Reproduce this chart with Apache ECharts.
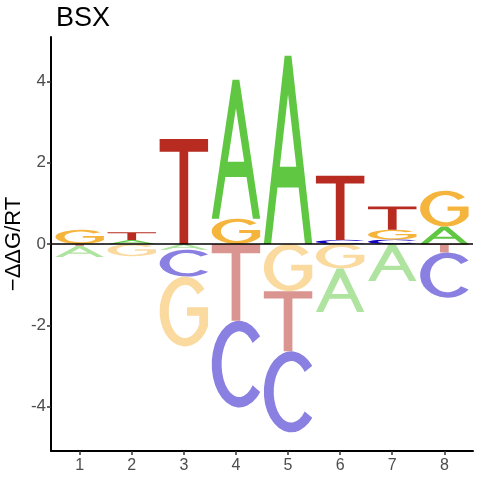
<!DOCTYPE html>
<html>
<head>
<meta charset="utf-8">
<script src="https://cdn.jsdelivr.net/npm/echarts@6/dist/echarts.min.js"></script>
<style>
  html, body { margin: 0; padding: 0; background: #fff; }
  #chart { width: 480px; height: 480px; }
</style>
</head>
<body>
<div id="chart"></div>
<script>
// positions along the motif
var positions = [1, 2, 3, 4, 5, 6, 7, 8];
// -ddG/RT per base, per position
var energyA = [-0.27, 0.10, -0.14, 3.42, 4.63, -1.07, -0.91, 0.43];
var energyC = [0, 0, -0.66, -2.13, -1.99, 0.10, 0.11, -1.11];
var energyG = [0.35, -0.30, -1.72, 0.62, -1.16, -0.60, 0.24, 0.88];
var energyT = [-0.05, 0.19, 2.58, -1.89, -1.48, 1.58, 0.57, -0.21];
var yTicks = [-4, -2, 0, 2, 4];

var letters = ['A', 'C', 'G', 'T'];
var energies = [energyA, energyC, energyG, energyT];
var colorsPos = ['#5fc741', '#1500c5', '#f5b53d', '#b72b21'];
var colorsNeg = ['#afe3a0', '#8a80e2', '#fada9e', '#db9590'];

// glyph outlines, stretched to each letter box
var glyphs = {
  A: 'M0 100 L43 0 L57 0 L100 100 L85 100 L71.8 70 L28.2 70 L15 100 Z M33 59 L67 59 L50 20.5 Z',
  T: 'M0 0 L100 0 L100 12 L59 12 L59 100 L41 100 L41 12 L0 12 Z',
  C: 'M88.3 17.9 A50 50 0 1 0 88.3 82.1 L74.5 74.4 A32 38 0 1 1 74.5 25.6 Z',
  G: 'M88.3 17.9 A50 50 0 1 0 95.3 71.1 L95.3 44 L54 44 L54 56 L78 56 L78 68.4 A32 38 0 1 1 74.5 25.6 Z'
};

var xMin = 0.45, xMax = 8.55, yMin = -5.09, yMax = 5.09;
var letterWidth = 0.93;

// build stacks: smallest next to zero, biggest outside
var stackData = [];
positions.forEach(function (p, i) {
  var pos = [], neg = [];
  energies.forEach(function (arr, li) {
    var v = arr[i];
    if (v > 0) pos.push([li, v]);
    else if (v < 0) neg.push([li, v]);
  });
  pos.sort(function (a, b) { return a[1] - b[1]; });
  neg.sort(function (a, b) { return b[1] - a[1]; });
  var acc = 0;
  pos.forEach(function (d) {
    stackData.push([p, acc, acc + d[1], d[0], 0]);
    acc += d[1];
  });
  acc = 0;
  neg.forEach(function (d) {
    stackData.push([p, acc, acc + d[1], d[0], 1]);
    acc += d[1];
  });
});

var chart = echarts.init(document.getElementById('chart'));

var option = {
  animation: false,
  title: {
    text: 'BSX',
    left: 51,
    top: 0,
    textStyle: { fontFamily: 'Liberation Sans', fontSize: 27, fontWeight: 'normal', color: '#000' }
  },
  grid: { left: 51, right: 7, top: 37, bottom: 29, outerBoundsMode: 'none', containLabel: false },
  xAxis: {
    type: 'value',
    min: xMin,
    max: xMax,
    splitLine: { show: false },
    axisLine: { onZero: false, lineStyle: { color: '#000', width: 2 } },
    axisTick: { customValues: positions, length: 4, lineStyle: { color: '#333', width: 1.5 } },
    axisLabel: {
      customValues: positions,
      fontFamily: 'Liberation Sans', fontSize: 16, color: '#4d4d4d', margin: 7
    }
  },
  yAxis: {
    type: 'value',
    min: yMin,
    max: yMax,
    name: '\u2212\u0394\u0394G/RT',
    nameLocation: 'middle',
    nameGap: 26,
    nameMoveOverlap: false,
    nameTextStyle: { fontFamily: 'Liberation Sans', fontSize: 22, color: '#000' },
    splitLine: { show: false },
    axisLine: { show: true, lineStyle: { color: '#000', width: 2 } },
    axisTick: { show: true, customValues: yTicks, length: 4, lineStyle: { color: '#333', width: 1.5 } },
    axisLabel: {
      customValues: yTicks,
      fontFamily: 'Liberation Sans', fontSize: 17, color: '#4d4d4d', margin: 5
    }
  },
  series: [
    {
      type: 'custom',
      data: stackData,
      encode: { x: 0, y: [1, 2] },
      renderItem: function (params, api) {
        var x = api.value(0), y0 = api.value(1), y1 = api.value(2);
        var li = api.value(3), isNeg = api.value(4);
        var tl = api.coord([x - letterWidth / 2, Math.max(y0, y1)]);
        var br = api.coord([x + letterWidth / 2, Math.min(y0, y1)]);
        return {
          type: 'path',
          shape: {
            pathData: glyphs[letters[li]],
            x: tl[0], y: tl[1],
            width: br[0] - tl[0], height: br[1] - tl[1],
            layout: 'cover'
          },
          style: { fill: isNeg ? colorsNeg[li] : colorsPos[li] }
        };
      }
    },
    {
      type: 'line',
      data: [[xMin, 0], [xMax, 0]],
      symbol: 'none',
      silent: true,
      z: 5,
      lineStyle: { color: '#000', width: 1.5 }
    }
  ]
};

chart.setOption(option);
</script>
</body>
</html>
